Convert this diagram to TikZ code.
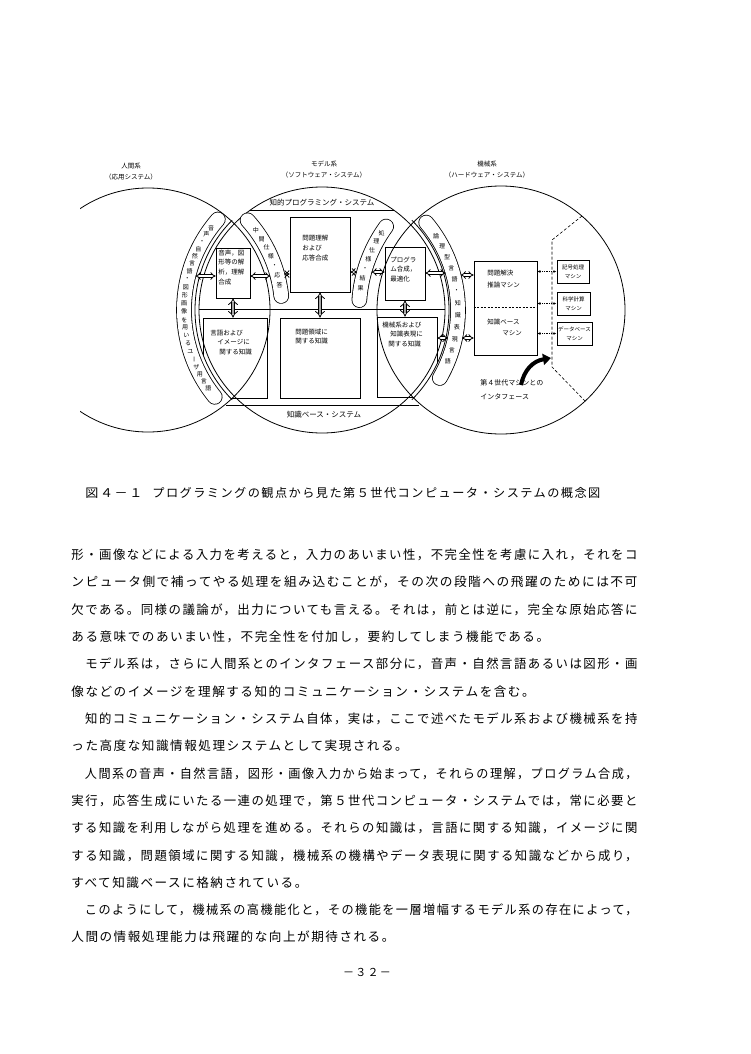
\documentclass[tikz,border=0pt]{standalone}
\usepackage{fontspec}
\setmainfont{Noto Sans CJK JP}
\newfontfamily\bodyfont[LetterSpace=12]{Noto Sans CJK JP}
\usetikzlibrary{arrows.meta}
\newcommand{\fullline}[2][566pt]{\resizebox{#1}{\height}{#2}}

\begin{document}
\begin{tikzpicture}[x=1pt, y=-1pt, line width=0.8pt,
	lbl/.style={font=\fontsize{6.5}{9.6}\selectfont, inner sep=0pt, align=left, anchor=north west},
	ttl/.style={font=\fontsize{6.5}{11}\selectfont, inner sep=0pt, align=center},
	chord/.style={font=\fontsize{7.5}{7.5}\selectfont, inner sep=0pt},
	box/.style={draw, rectangle, inner sep=0pt},
	mbox/.style={box, line width=1pt, minimum height=23pt, font=\fontsize{5.5}{9}\selectfont, align=center},
	pill/.style={draw, double, double distance=14pt, line cap=round},
	ptxt/.style={font=\fontsize{6}{6}\selectfont, inner sep=0pt},
	hollow/.style={double, double distance=1.8pt, {Implies}-{Implies}},
	hatch/.style={double=gray!70, double distance=2.6pt, {Implies}-{Implies}},
	dotarr/.style={densely dotted, {Latex[open,length=3pt,width=3pt]}-{Latex[open,length=3pt,width=3pt]}},
	body/.style={font=\fontsize{12.6}{12.6}\bodyfont, anchor=west, inner sep=0pt}]
\useasboundingbox[fill=white] (0,0) rectangle (750,1054);
% the three systems
\coordinate (hc) at (148,310);
\coordinate (mc) at (322,310);
\coordinate (kc) at (501,310);
\begin{scope}
	\clip (80,150) rectangle (300,450);
	\draw (hc) circle[radius=122];
\end{scope}
\draw (mc) circle[radius=123];
\draw (kc) circle[radius=124];
\draw ([shift={(135:127)}]mc) arc[start angle=135, end angle=225, radius=127];
\draw ([shift={(-45:127)}]mc) arc[start angle=-45, end angle=45, radius=127];
\draw (250.4,210) -- (393.6,210);
\draw (199,309) -- (445,309);
\draw (226,405) -- (419,405);
\node[ttl] (jinkan) at (131,171.5) {人間系\\（応用システム）};
\node[ttl] (model) at (324,170) {モデル系\\（ソフトウェア・システム）};
\node[ttl] (kikaikei) at (487,170) {機械系\\（ハードウェア・システム）};
\node[chord] (chiteki) at (322,203) {知的プログラミング・システム};
\node[chord] (kbase) at (324,415) {知識ベース・システム};

% language bands
\draw[pill] ([shift={(221:138)}]mc) arc[start angle=221, end angle=141, radius=138];
\draw[pill] ([shift={(-42:134)}]hc) arc[start angle=-42, end angle=-6, radius=134];
\draw[pill] ([shift={(216:142)}]kc) arc[start angle=216, end angle=184, radius=142];
\draw[pill] ([shift={(-40:136)}]mc) arc[start angle=-40, end angle=30, radius=136];
\foreach \c [count=\i] in {音,声,・,自,然,言,語,・,図,形,画,像,を,用,い,る,ユ,{\rotatebox{-90}{ー}},ザ,用,言,語}
	\node[ptxt] (up\i) at ([shift={({216.5-3.38*(\i-1)}:138)}]mc) {\c};
\foreach \c [count=\i] in {中,間,仕,様,・,応,答}
	\node[ptxt] (cp\i) at ([shift={({-36.3+4.27*(\i-1)}:134)}]hc) {\c};
\foreach \c [count=\i] in {処,理,仕,様,・,結,果}
	\node[ptxt] (sp\i) at ([shift={({212.7-3.97*(\i-1)}:142)}]kc) {\c};
\foreach \c [count=\i] in {論,理,型,言,語,・,知,識,表,現,言,語}
	\node[ptxt] (rp\i) at ([shift={({-33+5.03*(\i-1)}:136)}]mc) {\c};

% processing and knowledge
\node[box, minimum width=34pt, minimum height=50pt] (onsei) at (233,273) {};
\node[lbl] (onsei-t) at (218,249.5) {音声，図\\形等の解\\析，理解\\合成};
\node[box, minimum width=60pt, minimum height=75pt] (mondai) at (320,254.5) {};
\node[lbl, font=\fontsize{6.5}{10}\selectfont] (mondai-t) at (302,234.5) {問題理解\\および\\応答合成};
\node[box, minimum width=40pt, minimum height=53pt] (prog) at (405,273.5) {};
\node[lbl] (prog-t) at (390,256.5) {プログラ\\ム合成，\\最適化};
\begin{scope}
	\clip (mc) circle[radius=127];
	\node[box, minimum width=64pt, minimum height=80pt] (gengo) at (235,358) {};
	\node[box, minimum width=60pt, minimum height=80pt] (kikai) at (407,357) {};
\end{scope}
\node[lbl] (gengo-t) at (210,329.5) {言語および\\\hspace*{7pt}イメージに\\\hspace*{9pt}関する知識};
\node[box, minimum width=80pt, minimum height=80pt] (ryouiki) at (320,358) {};
\node[lbl] (ryouiki-t) at (295,328.5) {問題領域に\\関する知識};
\node[lbl] (kikai-t) at (382,321.5) {機械系および\\\hspace*{8pt}知識表現に\\\hspace*{6pt}関する知識};

% machines
\node[box, minimum width=63pt, minimum height=94pt] (kaiketsu) at (505.5,308) {};
\coordinate (kdiv) at (0,307);
\draw[dash pattern=on 2pt off 1.5pt] (kaiketsu.west |- kdiv) -- (kaiketsu.east |- kdiv);
\node[lbl, font=\fontsize{6.5}{12}\selectfont] (kaiketsu-t) at (487,269.5) {問題解決\\推論マシン};
\node[lbl, font=\fontsize{6.5}{11}\selectfont] (kbm-t) at (487,318.5) {知識ベース\\\hspace*{15pt}マシン};
\node[mbox, minimum width=32pt] (kigou) at (573,271.5) {記号処理\\マシン};
\node[mbox, minimum width=33pt] (kagaku) at (573.5,303.5) {科学計算\\マシン};
\node[mbox, minimum width=35pt] (dbm) at (574.5,333.5) {データベース\\マシン};
\coordinate (d1) at (582,216);
\coordinate (d2) at (552,240);
\coordinate (d3) at (552,367);
\coordinate (d4) at (585,401);
\draw[dash pattern=on 3pt off 2pt, line width=0.6pt] (d1) -- (d2) -- (d3) -- (d4);
\coordinate (ia-s) at (521,385);
\coordinate (ia-e) at (551,358);
\draw[line width=4pt, -{Triangle[length=8pt,width=11pt]}] (ia-s) .. controls (524,370) and (533,361) .. (ia-e);
\node[lbl, font=\fontsize{7}{14}\selectfont] (ia-t) at (480,379.5) {第４世代マシンとの\\インタフェース};

% connectors
\coordinate (up-e) at (195.5,276);
\coordinate (cp-w) at (270.4,276);
\coordinate (cp-e) at (284.3,274);
\coordinate (sp-w) at (357,272);
\coordinate (sp-e) at (371.5,272);
\coordinate (rp-w) at (445.6,273);
\coordinate (rp-e) at (460.7,275);
\coordinate (rp-w2) at (448,338);
\coordinate (rp-e2) at (462,338);
\draw[hollow] (up-e) -- (onsei.west |- up-e);
\draw[hollow] (onsei.east |- cp-w) -- (cp-w);
\draw[hollow] (cp-e) -- (mondai.west |- cp-e);
\draw[hollow] (mondai.east |- sp-w) -- (sp-w);
\draw[hollow] (sp-e) -- (prog.west |- sp-e);
\draw[hollow] (prog.east |- rp-w) -- (rp-w);
\draw[hollow] (rp-e) -- (kaiketsu.west |- rp-e);
\draw[hollow] (kikai.east |- rp-w2) -- (rp-w2);
\draw[hollow] (rp-e2) -- (kaiketsu.west |- rp-e2);
\draw[hatch] (onsei.south) -- (onsei.south |- gengo.north);
\draw[hatch] (mondai.south) -- (mondai.south |- ryouiki.north);
\draw[hatch] (prog.south) -- (prog.south |- kikai.north);
\draw[dotarr] (kaiketsu.east |- kigou) -- (kigou.west);
\draw[dotarr] (kaiketsu.east |- kagaku) -- (kagaku.west);
\draw[dotarr] (kaiketsu.east |- dbm) -- (dbm.west);

% caption and text
\node[body, font=\fontsize{12}{12}\bodyfont] (cap-no) at (85,493) {\fullline[57pt]{図４－１}};
\node[body, font=\fontsize{12}{12}\bodyfont] (cap) at (152,493) {\fullline[448pt]{プログラミングの観点から見た第５世代コンピュータ・システムの概念図}};
\node[body] (l0) at (71,555) {\fullline{形・画像などによる入力を考えると，入力のあいまい性，不完全性を考慮に入れ，それをコ}};
\node[body] (l1) at (71,582.3) {\fullline{ンピュータ側で補ってやる処理を組み込むことが，その次の段階への飛躍のためには不可}};
\node[body] (l2) at (71,609.6) {\fullline{欠である。同様の議論が，出力についても言える。それは，前とは逆に，完全な原始応答に}};
\node[body] (l3) at (71,636.9) {ある意味でのあいまい性，不完全性を付加し，要約してしまう機能である。};
\node[body] (l4) at (71,664.2) {\fullline{　モデル系は，さらに人間系とのインタフェース部分に，音声・自然言語あるいは図形・画}};
\node[body] (l5) at (71,691.5) {像などのイメージを理解する知的コミュニケーション・システムを含む。};
\node[body] (l6) at (71,718.8) {\fullline{　知的コミュニケーション・システム自体，実は，ここで述べたモデル系および機械系を持}};
\node[body] (l7) at (71,746.1) {った高度な知識情報処理システムとして実現される。};
\node[body] (l8) at (71,773.4) {\fullline{　人間系の音声・自然言語，図形・画像入力から始まって，それらの理解，プログラム合成，}};
\node[body] (l9) at (71,800.7) {\fullline{実行，応答生成にいたる一連の処理で，第５世代コンピュータ・システムでは，常に必要と}};
\node[body] (l10) at (71,828) {\fullline{する知識を利用しながら処理を進める。それらの知識は，言語に関する知識，イメージに関}};
\node[body] (l11) at (71,855.3) {\fullline{する知識，問題領域に関する知識，機械系の機構やデータ表現に関する知識などから成り，}};
\node[body] (l12) at (71,882.6) {すべて知識ベースに格納されている。};
\node[body] (l13) at (71,909.9) {\fullline{　このようにして，機械系の高機能化と，その機能を一層増幅するモデル系の存在によって，}};
\node[body] (l14) at (71,937.2) {人間の情報処理能力は飛躍的な向上が期待される。};
\node[body, anchor=center, font=\fontsize{11}{11}\bodyfont] (page) at (367,972) {－３２－};
\end{tikzpicture}
\end{document}
